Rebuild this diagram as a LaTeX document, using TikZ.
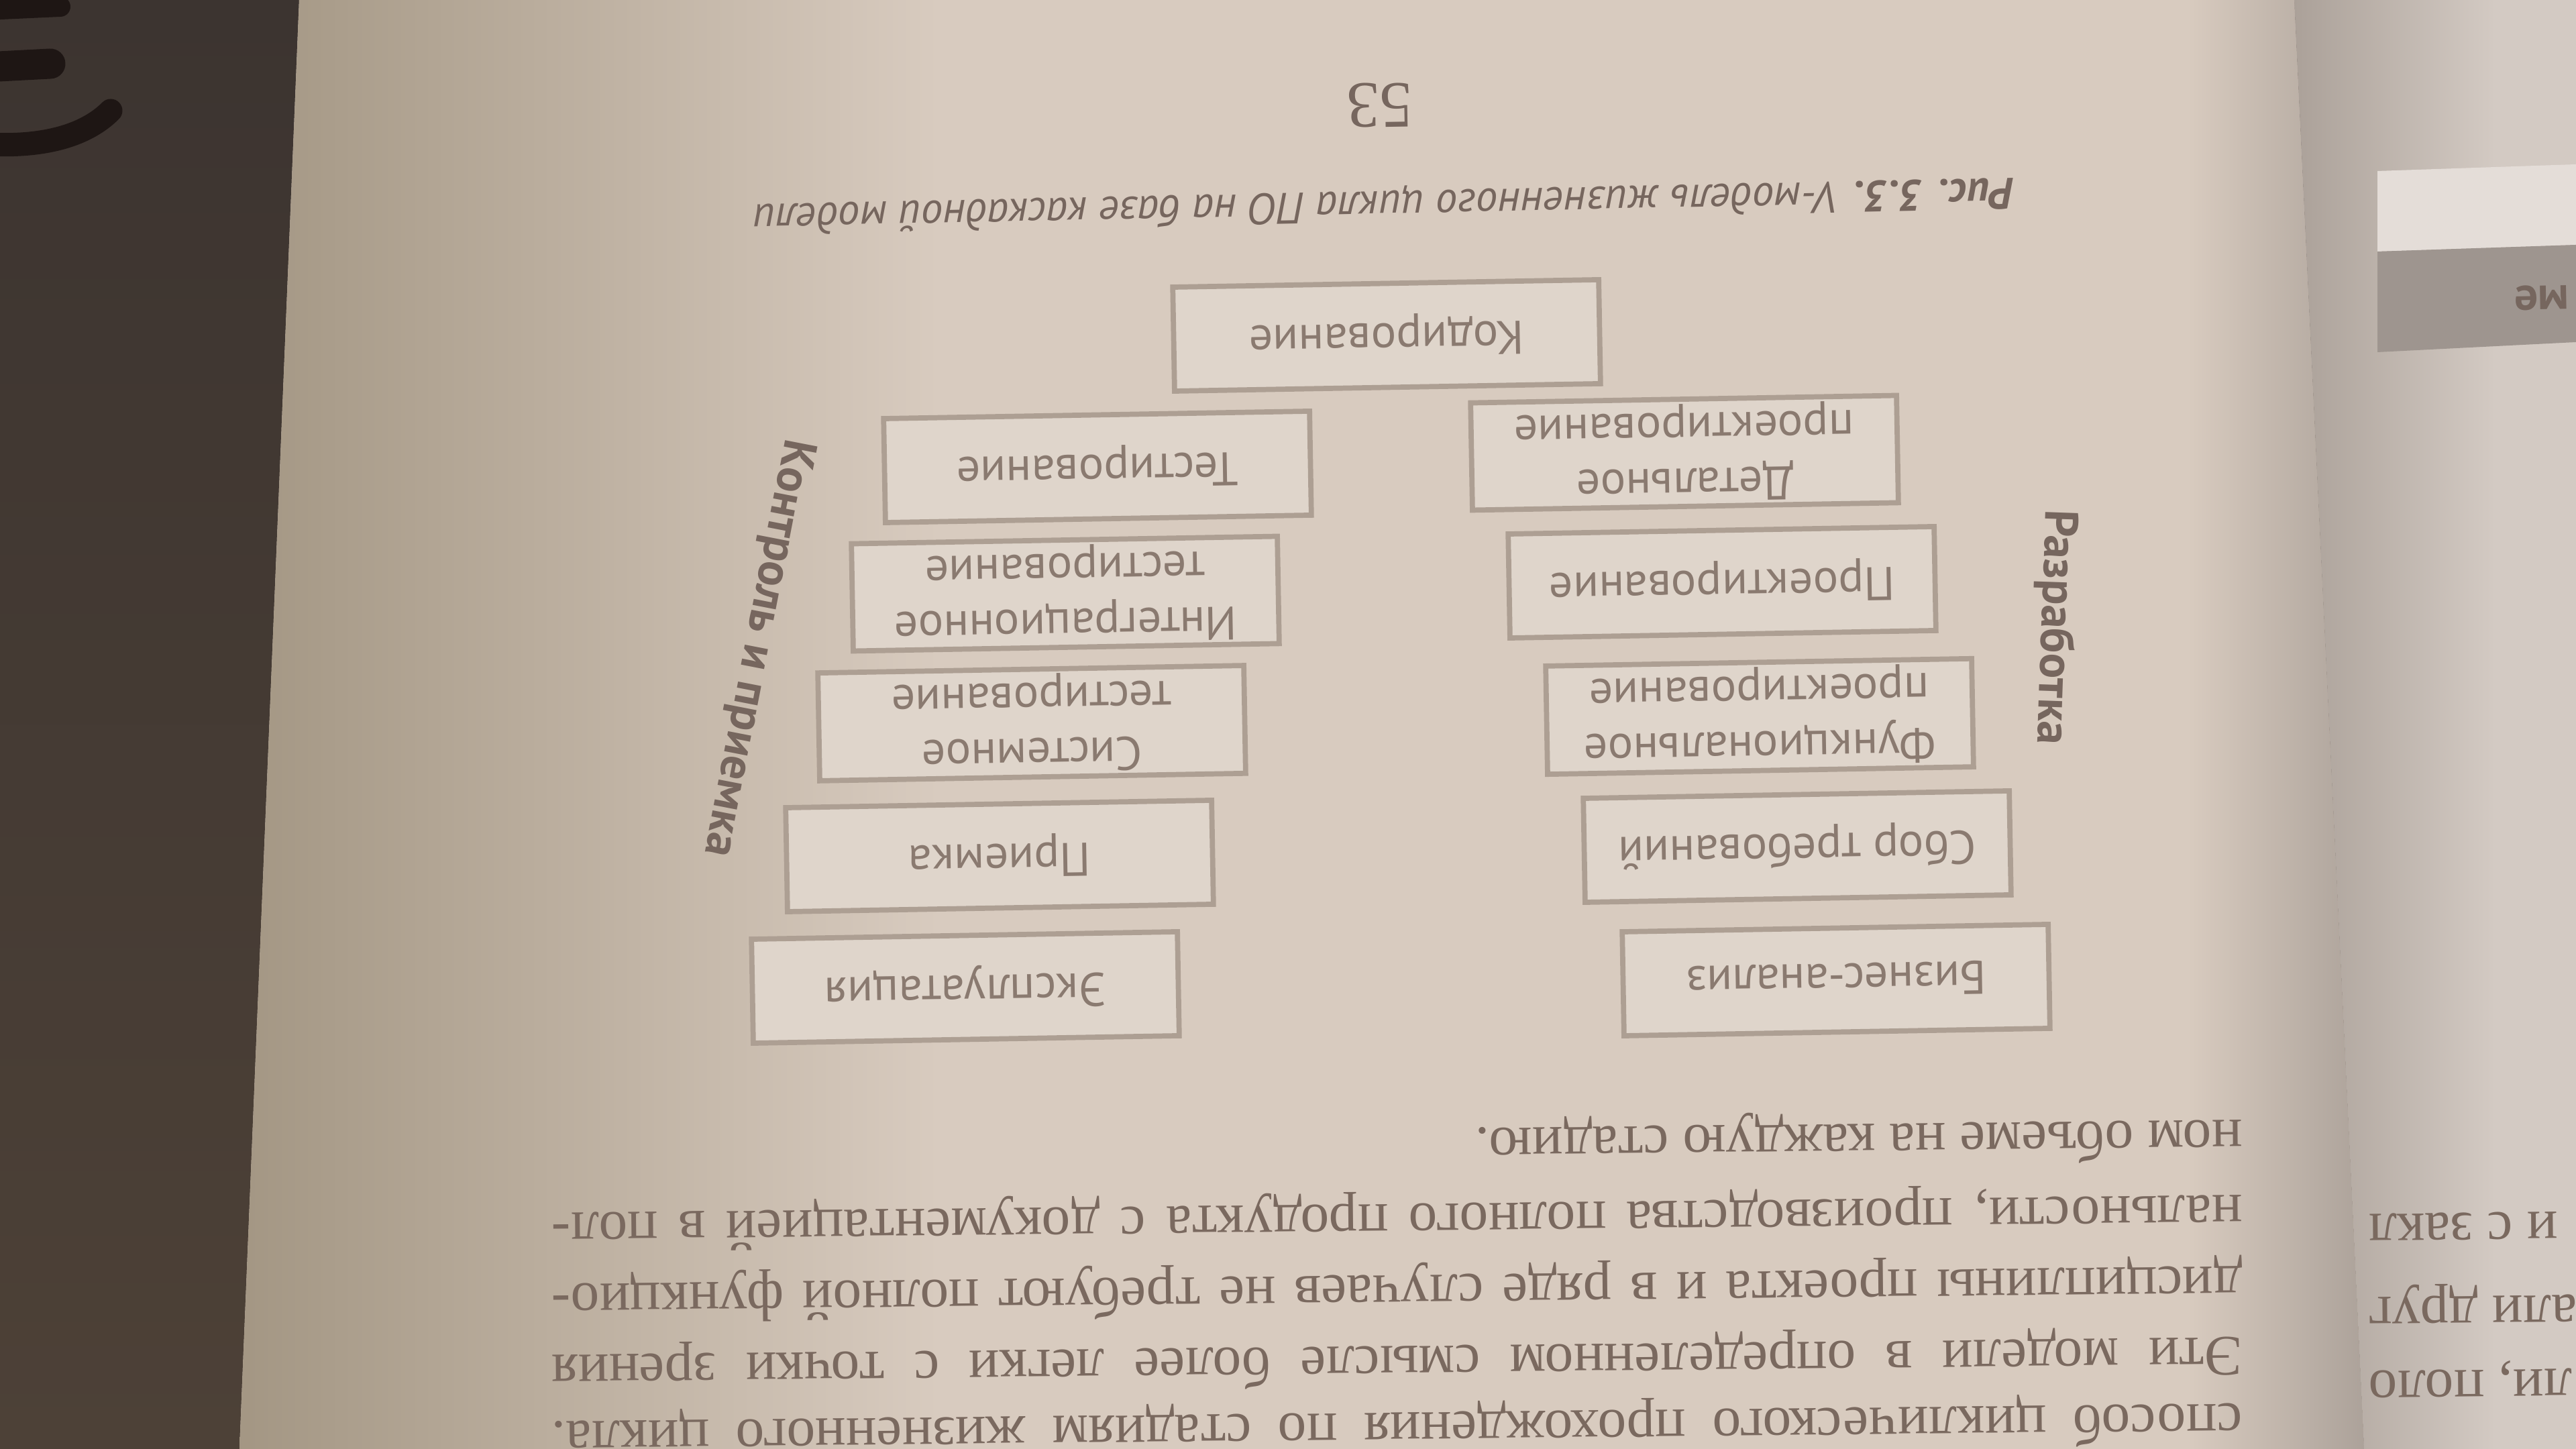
\documentclass[tikz,border=0pt]{standalone}
\usepackage{fontspec}
\setmainfont{Liberation Serif}
\newfontfamily\ptsans{PT Sans}
\usetikzlibrary{positioning}

\definecolor{desk}{HTML}{4D4137}
\definecolor{desktop}{HTML}{3C3430}
\definecolor{blob}{HTML}{1E1614}
\definecolor{paper}{HTML}{D8CBBF}
\definecolor{paperdark}{HTML}{A39683}
\definecolor{paperright}{HTML}{D3CAC3}
\definecolor{gutter}{HTML}{ABA199}
\definecolor{boxfill}{HTML}{DFD5CB}
\definecolor{frame}{HTML}{AD9F93}
\definecolor{ink}{HTML}{8A7A70}
\definecolor{inkdark}{HTML}{76665E}
\definecolor{print}{HTML}{7A695F}
\definecolor{tabgray}{HTML}{9E958F}
\definecolor{tabwhite}{HTML}{E4DDD8}

\newcommand\stagefont{\ptsans\fontsize{20}{23.5}\selectfont}
\newcommand\sidefont{\ptsans\bfseries\fontsize{20}{24}\selectfont}
\newcommand\capfont{\ptsans\itshape\fontsize{18.6}{22}\selectfont}
\newcommand\bodyfont{\fontsize{24.3}{28}\selectfont}

\begin{document}
\begin{tikzpicture}
  [stage/.style={draw=frame,line width=2.2pt,fill=boxfill,rectangle,minimum width=6.35cm,minimum height=1.55cm,inner sep=2pt,align=center,text=ink,font=\stagefont,rotate=181},
   side/.style={text=inkdark,font=\sidefont,inner sep=0pt},
   textline/.style={text=print,font=\bodyfont,inner sep=0pt,anchor=mid west,rotate=180.6}]

  \useasboundingbox (0,0) rectangle (38.4,21.6);
  \clip (0,0) rectangle (38.4,21.6);

  % desk and pages
  \shade[top color=desktop,bottom color=desk] (0,0) rectangle (38.4,21.6);
  \fill[paper] (4.46,21.6) -- (3.57,0) -- (35.24,0) -- (34.20,21.6) -- cycle;
  \begin{scope}
    \clip (4.46,21.6) -- (3.57,0) -- (35.24,0) -- (34.20,21.6) -- cycle;
    \shade[left color=paperdark,right color=paper] (3.5,0) rectangle (14,21.6);
    \shade[left color=paper,right color=gutter] (32.6,0) rectangle (35.3,21.6);
  \end{scope}
  \shade[left color=gutter,right color=paperright] (34.20,21.6) -- (35.24,0) -- (37.2,0) -- (37.2,21.6) -- cycle;
  \fill[paperright] (37.2,0) rectangle (38.4,21.6);

  \draw[blob,line width=0.35cm,line cap=round] (-0.2,19.45) .. controls (0.7,19.4) and (1.3,19.6) .. (1.65,19.95);
  \draw[blob,line width=0.45cm,line cap=round] (-0.2,20.6) -- (0.75,20.65);
  \draw[blob,line width=0.3cm,line cap=round] (-0.2,21.45) -- (0.9,21.5);

  % tab of the facing page
  \fill[tabwhite] (35.44,19.05) -- (38.4,19.15) -- (38.4,17.95) -- (35.44,17.85) -- cycle;
  \fill[tabgray] (35.44,17.85) -- (38.4,17.95) -- (38.4,16.5) -- (35.44,16.35) -- cycle;
  \node[text=inkdark,font=\ptsans\bfseries\fontsize{20}{24}\selectfont,anchor=mid east,rotate=181] (tab) at (37.35,17.25) {ме};

  % stages
  \node[stage] (biz) at (27.37, 6.99) {Бизнес-анализ};
  \node[stage] (req) at (26.79, 8.98) {Сбор требований};
  \node[stage] (func) at (26.23, 10.92) {Функциональное\\проектирование};
  \node[stage] (arch) at (25.67, 12.92) {Проектирование};
  \node[stage] (detail) at (25.11, 14.85) {Детальное\\проектирование};
  \node[stage] (code) at (20.67, 16.60) {Кодирование};
  \node[stage] (test) at (16.36, 14.64) {Тестирование};
  \node[stage] (integ) at (15.88, 12.75) {Интеграционное\\тестирование};
  \node[stage] (sys) at (15.38, 10.82) {Системное\\тестирование};
  \node[stage] (accept) at (14.90, 8.84) {Приемка};
  \node[stage] (oper) at (14.39, 6.88) {Эксплуатация};

  \node[side,rotate=-92] (dev) at (30.62, 12.25) {Разработка};
  \node[side,rotate=-101] (ctrl) at (11.28, 11.94) {Контроль и приемка};

  \node[text=inkdark,font=\capfont,inner sep=0pt,rotate=181.2] (caption) at (20.63, 18.55) {\textbf{Рис. 3.3.} V-модель жизненного цикла ПО на базе каскадной модели};
  \node[text=inkdark,font=\fontsize{28}{30}\selectfont,inner sep=0pt,rotate=181] (pagenum) at (20.57, 20.03) {53};

  % body text
  \node[textline] (line1) at (33.43, 4.82) {ном объеме на каждую стадию.};
  \node[textline] (line2) at (33.43, 3.70) {\makebox[25.2cm][s]{нальности, производства полного продукта с документацией в пол-}};
  \node[textline] (line3) at (33.43, 2.64) {\makebox[25.2cm][s]{дисциплины проекта и в ряде случаев не требуют полной функцио-}};
  \node[textline] (line4) at (33.43, 1.58) {\makebox[25.2cm][s]{Эти модели в определенном смысле более легки с точки зрения}};
  \node[textline] (line5) at (33.43, 0.59) {\makebox[25.2cm][s]{способ циклического прохождения по стадиям жизненного цикла.}};

  \node[textline,anchor=mid east] (frag1) at (35.30, 3.42) {и с закл};
  \node[textline,anchor=mid east] (frag2) at (35.30, 2.18) {али друг};
  \node[textline,anchor=mid east] (frag3) at (35.30, 1.08) {ли, поло};
\end{tikzpicture}
\end{document}
